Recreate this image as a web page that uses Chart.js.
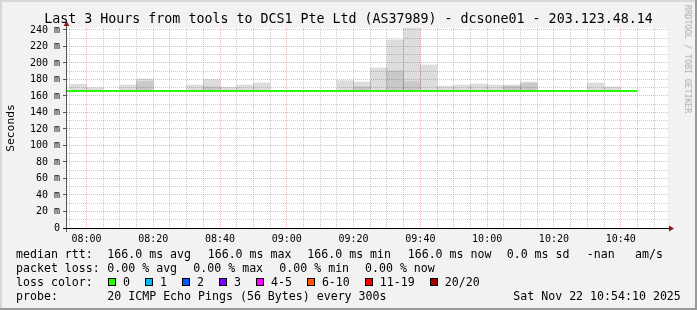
<!DOCTYPE html>
<html>
<head>
<meta charset="utf-8">
<script src="https://cdn.jsdelivr.net/npm/chart.js@4/dist/chart.umd.min.js"></script>
<style>
  body { margin: 0; background: #f2f2f2; }
  #wrap { position: relative; width: 697px; height: 310px; font-family: 'DejaVu Sans Mono', monospace; color: #000; overflow: hidden; }
  #chart { position: absolute; left: 0; top: 0; }
  #title { position: absolute; left: 0; top: 11px; width: 697px; text-align: center; font-size: 13.3px; line-height: 16px; white-space: pre; }
  #mark { position: absolute; left: 688px; top: 59px; font-size: 8.2px; line-height: 10px; color: #ababab; white-space: pre; transform: translate(-50%, -50%) rotate(90deg); }
  .row { position: absolute; left: 0; width: 697px; height: 14px; font-size: 11.6px; line-height: 14px; }
  .row span { position: absolute; top: 0; white-space: pre; }
  #loss { position: absolute; left: 108px; top: 275px; height: 14px; display: flex; align-items: center; font-size: 11.6px; line-height: 14px; white-space: pre; }
  #loss i { display: block; width: 8px; height: 8px; box-sizing: border-box; border: 1px solid #000; margin-right: 7px; }
  #loss b { font-weight: normal; margin-right: 15px; }
</style>
</head>
<body>
<div id="wrap">
  <canvas id="chart" width="697" height="310"></canvas>
  <div id="title">Last 3 Hours from tools to DCS1 Pte Ltd (AS37989) - dcsone01 - 203.123.48.14</div>
  <div id="mark">RRDTOOL / TOBI OETIKER</div>
  <div class="row" style="top:247px">
    <span style="left:16px">median rtt:</span>
    <span style="left:107.3px">166.0 ms avg</span>
    <span style="left:207.7px">166.0 ms max</span>
    <span style="left:307.3px">166.0 ms min</span>
    <span style="left:407.7px">166.0 ms now</span>
    <span style="left:506.7px">0.0 ms sd</span>
    <span style="left:586.7px">-nan</span>
    <span style="left:635px">am/s</span>
  </div>
  <div class="row" style="top:261px">
    <span style="left:16px">packet loss:</span>
    <span style="left:107.3px">0.00 % avg</span>
    <span style="left:193.3px">0.00 % max</span>
    <span style="left:279.3px">0.00 % min</span>
    <span style="left:365px">0.00 % now</span>
  </div>
  <div class="row" style="top:275px">
    <span style="left:16px">loss color:</span>
  </div>
  <div id="loss"></div>
  <div class="row" style="top:289px">
    <span style="left:16px">probe:</span>
    <span style="left:107.3px">20 ICMP Echo Pings (56 Bytes) every 300s</span>
    <span style="left:513.3px">Sat Nov 22 10:54:10 2025</span>
  </div>
</div>
<script>
// 5 minute slots (start time), median rtt and smoke spread in ms
const slotTimes = ['07:50','07:55','08:00','08:05','08:10','08:15','08:20','08:25','08:30','08:35','08:40','08:45',
                   '08:50','08:55','09:00','09:05','09:10','09:15','09:20','09:25','09:30','09:35','09:40','09:45',
                   '09:50','09:55','10:00','10:05','10:10','10:15','10:20','10:25','10:30','10:35','10:40'];
const medianRtt = [166,166,166,166,166,166,166,166,166,166,166,166,
                   166,166,166,166,166,166,166,166,166,166,166,166,
                   166,166,166,166,166,166,166,166,166,166,166];
const smokeMax  = [null,174.2,170.1,null,173.3,180.5,null,null,173.3,179.8,170.5,173.3,
                   175.8,null,null,null,null,178.6,177,194,228,246,197.6,172,
                   173.3,174.5,173.3,173.3,177,null,null,null,175.8,170.9,null];
const smokeMid  = [null,null,null,null,null,177.3,null,null,null,171.3,null,null,
                   null,null,null,null,null,null,171.3,null,190.5,177.4,null,null,
                   null,null,null,172,175.4,null,null,null,null,null,null];
const stepMin = 5;
const xTickLabels = ['08:00','08:20','08:40','09:00','09:20','09:40','10:00','10:20','10:40'];
const yTickLabels = ['0','20 m','40 m','60 m','80 m','100 m','120 m','140 m','160 m','180 m','200 m','220 m','240 m'];
const lossLabels = ['0','1','2','3','4-5','6-10','11-19','20/20'];
const lossColors = ['#26ff00','#00b8ff','#0059ff','#7e00ff','#ff00ff','#ff5500','#ff0000','#a10000'];
const viewStart = '07:54:10', viewEnd = '10:54:10';

const toMin = (t) => { const p = t.split(':').map(Number); return p[0] * 60 + p[1] + (p[2] || 0) / 60; };
const fmt = (v) => String(Math.floor(v / 60)).padStart(2, '0') + ':' + String(Math.round(v % 60)).padStart(2, '0');

document.getElementById('loss').innerHTML = lossLabels.map((l, i) => `<i style="background:${lossColors[i]}"></i><b>${l}</b>`).join('');

const bars = (top) => slotTimes.map((t, i) => top[i] == null ? null : { x: toMin(t) + stepMin / 2, y: [medianRtt[i], top[i]] }).filter(Boolean);
const line = slotTimes.map((t, i) => ({ x: toMin(t), y: medianRtt[i] }));
line.push({ x: toMin(slotTimes[slotTimes.length - 1]) + stepMin, y: medianRtt[medianRtt.length - 1] });

const frame = {
    id: 'frame',
    beforeDraw: (chart) => {
        const { ctx, width, height, chartArea: a } = chart;
        ctx.save();
        ctx.fillStyle = '#f2f2f2'; ctx.fillRect(0, 0, width, height);
        ctx.fillStyle = '#d8d8d8'; ctx.fillRect(0, 0, width, 2); ctx.fillRect(0, 0, 2, height);
        ctx.fillStyle = '#9a9a9a'; ctx.fillRect(0, height - 2, width, 2); ctx.fillRect(width - 2, 0, 2, height);
        ctx.fillStyle = '#fff'; ctx.fillRect(a.left, a.top, a.right - a.left, a.bottom - a.top);
        ctx.restore();
    },
    afterDraw: (chart) => {
        const { ctx, chartArea: a } = chart;
        ctx.save();
        ctx.lineWidth = 1;
        ctx.strokeStyle = '#555';
        ctx.beginPath(); ctx.moveTo(a.left - 0.5, a.bottom + 4); ctx.lineTo(a.left - 0.5, a.top - 4); ctx.stroke();
        ctx.strokeStyle = '#000';
        ctx.beginPath(); ctx.moveTo(a.left - 4, a.bottom + 0.5); ctx.lineTo(a.right + 3, a.bottom + 0.5); ctx.stroke();
        ctx.fillStyle = '#8b1a1a';
        ctx.beginPath(); ctx.moveTo(a.left - 0.5, a.top - 7); ctx.lineTo(a.left - 3.5, a.top - 2); ctx.lineTo(a.left + 2.5, a.top - 2); ctx.fill();
        ctx.beginPath(); ctx.moveTo(a.right + 6, a.bottom + 0.5); ctx.lineTo(a.right + 1, a.bottom - 2.5); ctx.lineTo(a.right + 1, a.bottom + 3.5); ctx.fill();
        ctx.restore();
    }
};

// ticks every 5 minutes / 10 ms; red grid on the labelled ones
const everyStep = (step) => (s) => {
    const ticks = [];
    for (let v = Math.ceil(s.min / step) * step; v <= s.max; v += step) ticks.push({ value: v });
    s.ticks = ticks;
};
const gridColor = (c) => (c.tick && Math.round(c.tick.value) % 20 === 0) ? 'rgba(255,0,0,0.3)' : 'rgba(140,140,140,0.45)';
const tickFont = { family: "'DejaVu Sans Mono', monospace", size: 10 };

new Chart(document.getElementById('chart'), {
    type: 'bar',
    data: {
        datasets: [
            { type: 'line', data: line, borderColor: '#26ff00', borderWidth: 2, pointRadius: 0, stepped: 'after', order: 0 },
            { data: bars(smokeMid), backgroundColor: 'rgba(0,0,0,0.09)', order: 1 },
            { data: bars(smokeMax), backgroundColor: 'rgba(0,0,0,0.135)', order: 2 }
        ]
    },
    options: {
        responsive: false, animation: false, devicePixelRatio: 1,
        layout: { padding: { top: 28, right: 29, bottom: 62, left: 0 } },
        datasets: { bar: { grouped: false, barPercentage: 1, categoryPercentage: 1, borderWidth: 0 } },
        plugins: { legend: { display: false }, title: { display: false }, tooltip: { enabled: false } },
        scales: {
            x: {
                type: 'linear', min: toMin(viewStart), max: toMin(viewEnd), offset: false,
                afterBuildTicks: everyStep(5),
                afterFit: (s) => { s.height = 20; },
                grid: { offset: false, color: gridColor, tickColor: 'transparent', tickLength: 3 },
                border: { display: false, dash: [1, 1] },
                ticks: {
                    autoSkip: false, maxRotation: 0, padding: 2, color: '#000', font: tickFont,
                    callback: (v) => xTickLabels.includes(fmt(v)) ? fmt(v) : ''
                }
            },
            y: {
                min: 0, max: 242.4,
                afterBuildTicks: everyStep(10),
                afterFit: (s) => { s.width = 67; },
                grid: { color: gridColor, tickColor: (c) => c.tick && c.tick.value % 20 === 0 ? '#555' : 'transparent', tickLength: 4 },
                border: { display: false, dash: [1, 1] },
                title: { display: true, text: 'Seconds', color: '#000', font: { family: "'DejaVu Sans Mono', monospace", size: 11.3 }, padding: { top: 4, bottom: 4 } },
                ticks: {
                    autoSkip: false, padding: 3, color: '#000', font: tickFont,
                    callback: (v) => v % 20 === 0 ? yTickLabels[v / 20] : ''
                }
            }
        }
    },
    plugins: [frame]
});
</script>
</body>
</html>
